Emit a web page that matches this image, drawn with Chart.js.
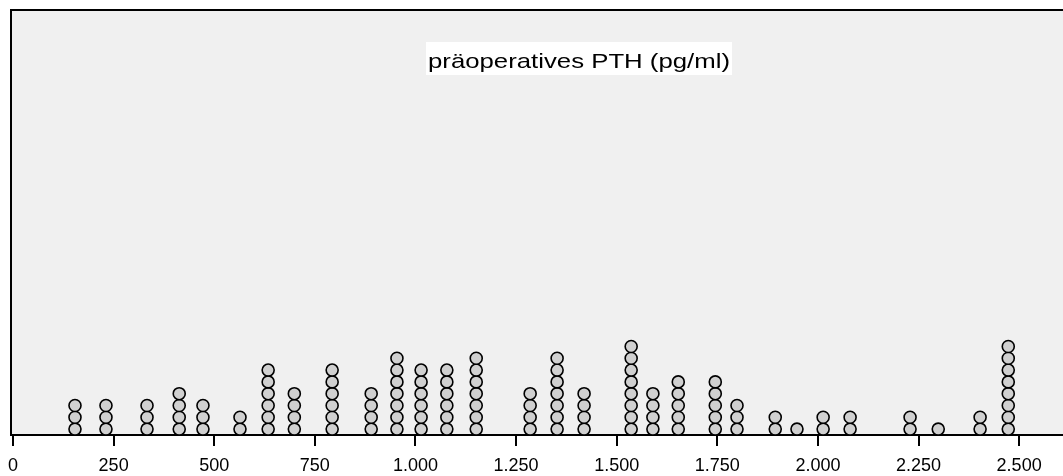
<!DOCTYPE html>
<html>
<head>
<meta charset="utf-8">
<script src="https://cdn.jsdelivr.net/npm/chart.js@4/dist/chart.umd.min.js"></script>
<style>
  html, body { margin: 0; padding: 0; background: #fff; }
  #wrap { width: 1063px; height: 476px; }
</style>
</head>
<body>
<div id="wrap"><canvas id="chart"></canvas></div>
<script>
// PTH value of each dot column (pg/ml) and number of patients stacked there
const pthValues = [154, 231, 333, 413, 472, 564, 634, 699, 793, 890, 954, 1014, 1078, 1151, 1285,
  1352, 1419, 1536, 1590, 1653, 1745, 1799, 1894, 1948, 2013, 2080, 2229, 2299, 2403, 2473];
const patientCounts = [3, 3, 3, 4, 3, 2, 6, 4, 6, 4, 7, 6, 6, 7, 4,
  7, 4, 8, 4, 5, 5, 3, 2, 1, 2, 2, 2, 1, 2, 8];
const xTicks = [0, 250, 500, 750, 1000, 1250, 1500, 1750, 2000, 2250, 2500];
const chartTitle = "präoperatives PTH (pg/ml)";

// German thousands separator, e.g. 1.000
const fmt = (v) => String(v).replace(/\B(?=(\d{3})+(?!\d))/g, ".");

// one point per patient, stacked upward in each column
const dots = [];
pthValues.forEach((v, i) => {
  for (let k = 1; k <= patientCounts[i]; k++) {
    dots.push({ x: v, y: k - 0.5 });
  }
});

const plotFrame = {
  id: "plotFrame",
  beforeDraw(chart) {
    const { ctx, chartArea: a } = chart;
    ctx.save();
    ctx.fillStyle = "#f0f0f0";
    ctx.fillRect(a.left, a.top, a.right - a.left, a.bottom - a.top);
    ctx.strokeStyle = "#000";
    ctx.lineWidth = 2;
    ctx.beginPath();
    ctx.moveTo(a.left, a.bottom);
    ctx.lineTo(a.left, a.top);
    ctx.lineTo(a.right, a.top);
    ctx.stroke();
    ctx.restore();
  },
  afterDraw(chart) {
    const { ctx } = chart;
    ctx.save();
    ctx.font = "21px 'Liberation Sans', Arial, sans-serif";
    const w = ctx.measureText(chartTitle).width;
    const sx = 302 / w;
    const cx = 579;
    ctx.fillStyle = "#fff";
    ctx.fillRect(cx - 153, 42, 306, 33);
    ctx.translate(cx, 67.5);
    ctx.scale(sx, 1);
    ctx.fillStyle = "#000";
    ctx.textAlign = "center";
    ctx.textBaseline = "alphabetic";
    ctx.fillText(chartTitle, 0, 0);
    ctx.restore();
  }
};

new Chart(document.getElementById("chart"), {
  type: "scatter",
  data: {
    datasets: [{
      data: dots,
      pointRadius: 6,
      pointHoverRadius: 6,
      pointBackgroundColor: "#d0d0d0",
      pointBorderColor: "#000",
      pointBorderWidth: 1.6
    }]
  },
  options: {
    responsive: true,
    maintainAspectRatio: false,
    animation: false,
    layout: { autoPadding: false, padding: { left: 11, top: 10, right: 0, bottom: 0 } },
    plugins: { legend: { display: false }, tooltip: { enabled: false } },
    scales: {
      x: {
        type: "linear",
        min: -5,
        max: 2609,
        afterBuildTicks: (s) => { s.ticks = xTicks.map((v) => ({ value: v })); },
        afterFit: (s) => { s.height = 41; s.paddingLeft = 0; s.paddingRight = 0; },
        border: { display: true, color: "#000", width: 2 },
        grid: { drawOnChartArea: false, drawTicks: true, tickLength: 11, color: "#000", lineWidth: 2 },
        ticks: {
          autoSkip: false,
          maxRotation: 0,
          padding: 9,
          color: "#000",
          font: { family: "'Liberation Sans', Arial, sans-serif", size: 18 },
          callback: (v) => fmt(v)
        }
      },
      y: {
        display: false,
        min: 0,
        max: 36
      }
    }
  },
  plugins: [plotFrame]
});
</script>
</body>
</html>
